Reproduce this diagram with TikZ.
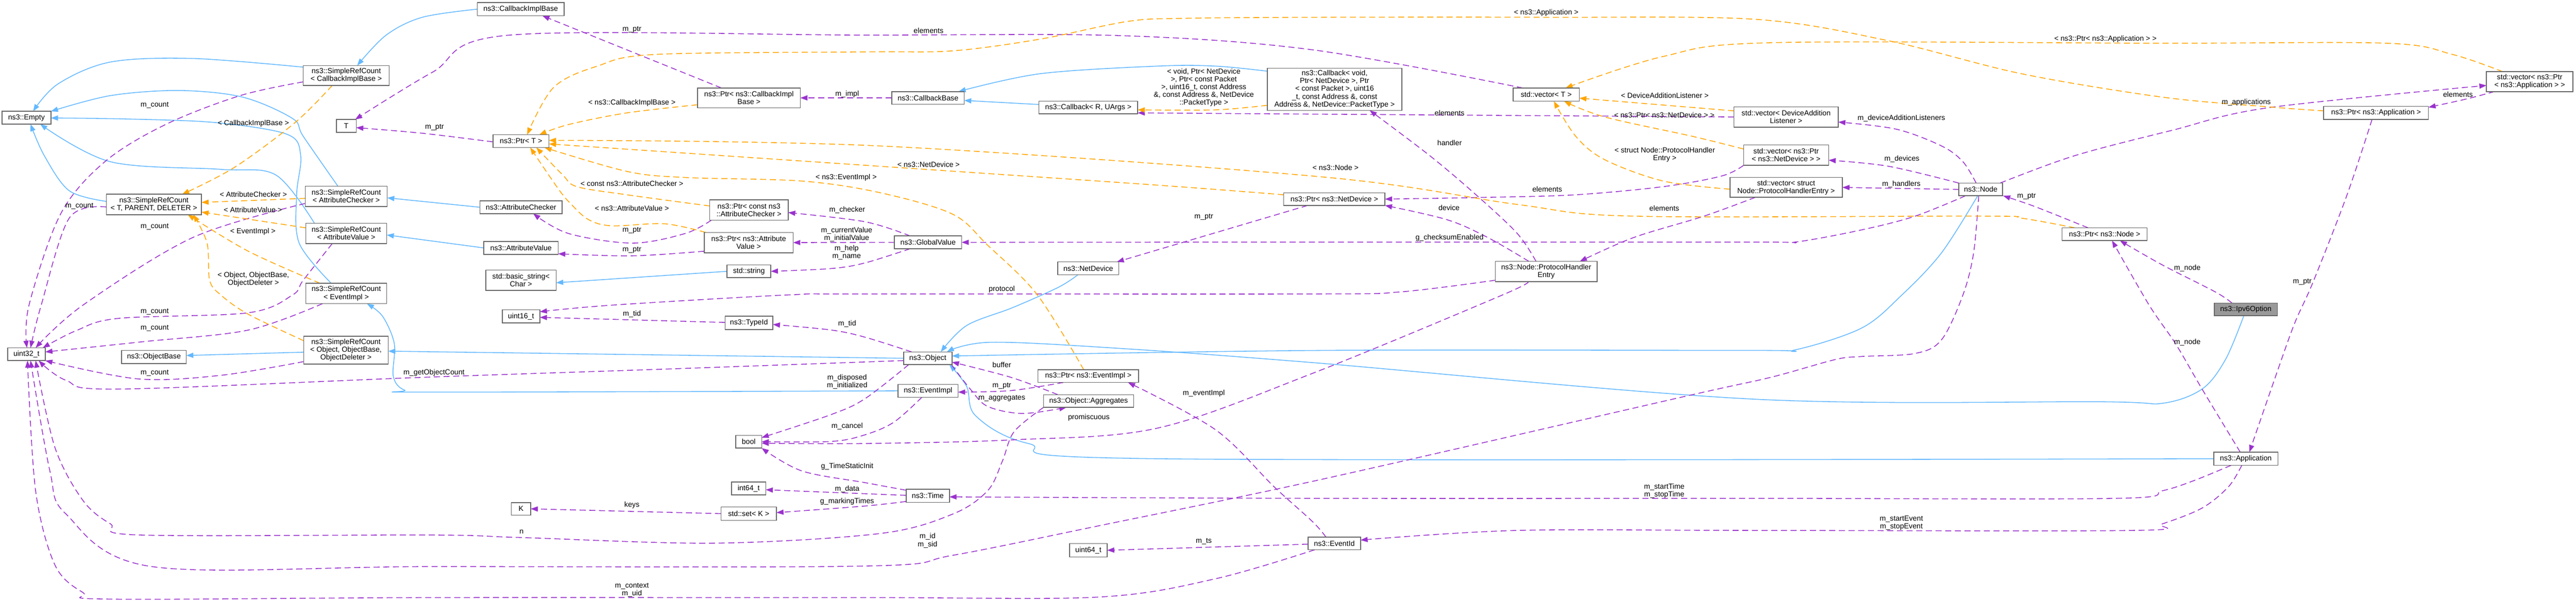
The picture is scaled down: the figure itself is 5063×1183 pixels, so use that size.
\documentclass[tikz,border=0pt]{standalone}
\usepackage{fontspec}
\setmainfont{Liberation Sans}
\usetikzlibrary{arrows.meta,calc}
\pgfdeclarelayer{edges}
\pgfsetlayers{edges,main}
\definecolor{inhC}{HTML}{63B8FF}
\definecolor{useC}{HTML}{9A32CD}
\definecolor{tplC}{HTML}{FFA500}
\definecolor{brdC}{HTML}{666666}
\definecolor{grayF}{HTML}{999999}
\begin{document}
\begin{tikzpicture}[x=0.02cm,y=-0.02cm,
  cbox/.style={draw=brdC,fill=white,line width=0.9pt,inner sep=0pt,align=center,font=\fontsize{8.2}{8.7}\selectfont},
  sz/.style 2 args={minimum width=#1cm,minimum height=#2cm},
  lbl/.style={inner sep=0pt,align=center,font=\fontsize{8.2}{8.7}\selectfont},
  rinh/.style={draw=inhC,line width=0.9pt,-{Triangle[length=0.28cm,width=0.2cm]}},
  ruse/.style={draw=useC,line width=0.9pt,dash pattern=on 0.24cm off 0.14cm,-{Triangle[length=0.28cm,width=0.2cm]}},
  rtpl/.style={draw=tplC,line width=0.9pt,dash pattern=on 0.24cm off 0.14cm,-{Triangle[length=0.28cm,width=0.2cm]}},
  sm/.style={smooth,tension=0.55}]
\useasboundingbox (0,0) rectangle (5063,1183);

% ---------------- nodes ----------------
\node[cbox,sz={1.92}{0.5}] (empty) at (52,231.5) {ns3::Empty};
\node[cbox,sz={3.38}{0.78}] (srccib) at (680.5,148.5) {ns3::SimpleRefCount\\< CallbackImplBase >};
\node[cbox,sz={0.78}{0.5}] (T) at (680.5,247.5) {T};
\node[cbox,sz={3.74}{0.8}] (srct) at (302.5,402) {ns3::SimpleRefCount\\< T, PARENT, DELETER >};
\node[cbox,sz={3.22}{0.8}] (srcac) at (680.5,386) {ns3::SimpleRefCount\\< AttributeChecker >};
\node[cbox,sz={3.18}{0.8}] (srcav) at (680.5,459) {ns3::SimpleRefCount\\< AttributeValue >};
\node[cbox,sz={3.18}{0.8}] (srcei) at (680.5,577) {ns3::SimpleRefCount\\< EventImpl >};
\node[cbox,sz={1.48}{0.5}] (uint32) at (52,696.5) {uint32\_t};
\node[cbox,sz={2.54}{0.52}] (objbase) at (302.5,702) {ns3::ObjectBase};
\node[cbox,sz={3.32}{1.1}] (srcobj) at (680,688.5) {ns3::SimpleRefCount\\< Object, ObjectBase,\\ObjectDeleter >};
\node[cbox,sz={3.42}{0.52}] (cib) at (1023.5,18) {ns3::CallbackImplBase};
\node[cbox,sz={4.04}{0.78}] (ptrcib) at (1472,192.5) {ns3::Ptr< ns3::CallbackImpl\\Base >};
\node[cbox,sz={2.2}{0.5}] (ptrt) at (1024,277.5) {ns3::Ptr< T >};
\node[cbox,sz={3.24}{0.5}] (attrchk) at (1024,407.5) {ns3::AttributeChecker};
\node[cbox,sz={3.08}{0.8}] (ptrcac) at (1472,413) {ns3::Ptr< const ns3\\::AttributeChecker >};
\node[cbox,sz={2.92}{0.5}] (attrval) at (1024,487.5) {ns3::AttributeValue};
\node[cbox,sz={3.5}{0.8}] (ptrav) at (1471.5,477) {ns3::Ptr< ns3::Attribute\\Value >};
\node[cbox,sz={2.76}{0.8}] (basicstr) at (1024,551) {std::basic\_string<\\Char >};
\node[cbox,sz={1.72}{0.5}] (stdstr) at (1472,533.5) {std::string};
\node[cbox,sz={1.48}{0.52}] (uint16) at (1024,622) {uint16\_t};
\node[cbox,sz={1.88}{0.52}] (typeid) at (1472,635) {ns3::TypeId};
\node[cbox,sz={1.02}{0.5}] (bool) at (1471.5,868.5) {bool};
\node[cbox,sz={1.34}{0.5}] (int64) at (1471.5,960.5) {int64\_t};
\node[cbox,sz={0.76}{0.5}] (K) at (1024,1000.5) {K};
\node[cbox,sz={2.18}{0.52}] (stdset) at (1471.5,1010) {std::set< K >};
\node[cbox,sz={2.84}{0.5}] (cbbase) at (1824,192.5) {ns3::CallbackBase};
\node[cbox,sz={3.88}{0.5}] (cbru) at (2139,211.5) {ns3::Callback< R, UArgs >};
\node[cbox,sz={5.28}{1.66}] (cbvoid) at (2623,175.5) {ns3::Callback< void,\\Ptr< NetDevice >, Ptr\\< const Packet >, uint16\\\_t, const Address \&, const\\Address \&, NetDevice::PacketType >};
\node[cbox,sz={2.64}{0.5}] (globalval) at (1824,476.5) {ns3::GlobalValue};
\node[cbox,sz={2.4}{0.5}] (netdev) at (2139,527.5) {ns3::NetDevice};
\node[cbox,sz={3.98}{0.5}] (ptrnd) at (2622.5,391.5) {ns3::Ptr< ns3::NetDevice >};
\node[cbox,sz={1.9}{0.5}] (object) at (1823.5,704.5) {ns3::Object};
\node[cbox,sz={3.96}{0.5}] (ptrei) at (2139,739.5) {ns3::Ptr< ns3::EventImpl >};
\node[cbox,sz={2.36}{0.5}] (eventimpl) at (1824,768.5) {ns3::EventImpl};
\node[cbox,sz={3.54}{0.5}] (aggr) at (2139.5,788.5) {ns3::Object::Aggregates};
\node[cbox,sz={1.7}{0.52}] (time) at (1823.5,975) {ns3::Time};
\node[cbox,sz={1.48}{0.52}] (uint64) at (2139,1082) {uint64\_t};
\node[cbox,sz={2.06}{0.5}] (eventid) at (2622.5,1068.5) {ns3::EventId};
\node[cbox,sz={2.6}{0.52}] (vect) at (3039,186) {std::vector< T >};
\node[cbox,sz={4.0}{0.8}] (phe) at (3039,534) {ns3::Node::ProtocolHandler\\Entry};
\node[cbox,sz={4.1}{0.8}] (vdal) at (3510.5,230) {std::vector< DeviceAddition\\Listener >};
\node[cbox,sz={3.34}{0.8}] (vpnd) at (3510.5,305) {std::vector< ns3::Ptr\\< ns3::NetDevice > >};
\node[cbox,sz={4.42}{0.78}] (vphe) at (3510.5,368.5) {std::vector< struct\\Node::ProtocolHandlerEntry >};
\node[cbox,sz={1.72}{0.5}] (nsnode) at (3893,372.5) {ns3::Node};
\node[cbox,sz={3.34}{0.5}] (ptrnode) at (4136.5,460.5) {ns3::Ptr< ns3::Node >};
\node[cbox,sz={3.4}{0.78}] (vpapp) at (4972,160.5) {std::vector< ns3::Ptr\\< ns3::Application > >};
\node[cbox,sz={4.12}{0.52}] (ptrapp) at (4670,222) {ns3::Ptr< ns3::Application >};
\node[cbox,sz={2.48}{0.5},fill=grayF] (ipv6) at (4414,608.5) {ns3::Ipv6Option};
\node[cbox,sz={2.52}{0.52}] (app) at (4414,902) {ns3::Application};

% ---------------- edges ----------------
\begin{pgfonlayer}{edges}
% inheritance
\draw[rinh] plot[sm] coordinates {($(srccib)+(-84.5,-16.5)$) (379,115) (217,122) (114,165) ($(empty)+(13,-12.5)$)};
\draw[rinh] plot[sm] coordinates {($(srcac)+(-16.5,-20)$) (596,268) (575,233) (477,191) (352,178) (217,188) ($(empty)+(48,-12.5)$)};
\draw[rinh] plot[sm] coordinates {($(srcei)+(-29.5,-20)$) (588,478) (583,383) (591,306) (564,264) (423,241) (250,234) ($(empty)+(48,0.5)$)};
\draw[rinh] plot[sm] coordinates {($(srcav)+(-62.5,-20)$) (542,344) (434,333) (217,318) ($(empty)+(27,12.5)$)};
\draw[rinh] plot[sm] coordinates {($(srct)+(-93.5,-6)$) (136,375) (87,306) ($(empty)+(8,12.5)$)};
\draw[rinh] plot[sm] coordinates {($(cib)+(-85.5,0)$) (830,34) (759,69) ($(srccib)+(21.5,-19.5)$)};
\draw[rinh] ($(attrchk)+(-81,0)$) -- ($(srcac)+(80.5,3)$);
\draw[rinh] ($(attrval)+(-73,0)$) -- ($(srcav)+(79.5,3)$);
\draw[rinh] plot[sm] coordinates {($(eventimpl)+(-59,0)$) (850,771) (795,767) (773,740) (775,676) (752,622) ($(srcei)+(40.5,20)$)};
\draw[rinh] ($(object)+(-47.5,0)$) -- ($(srcobj)+(83,2)$);
\draw[rinh] ($(srcobj)+(-83,4)$) -- ($(objbase)+(63.5,-3)$);
\draw[rinh] ($(cbru)+(-97,-6)$) -- ($(cbbase)+(71,5)$);
\draw[rinh] plot[sm] coordinates {($(cbvoid)+(-132,-35.5)$) (2389,130) (2274,130) (2044,145) ($(cbbase)+(60,-12.5)$)};
\draw[rinh] ($(stdstr)+(-43,0)$) -- ($(basicstr)+(69,5)$);
\draw[rinh] plot[sm] coordinates {($(netdev)+(-20,12.5)$) (2080,565) (1990,605) (1900,640) ($(object)+(25.5,-12.5)$)};
\draw[rinh] plot[sm] coordinates {($(nsnode)+(-6,12.5)$) (3816,497) (3738,580) (3659,645) (3528,688) (3450,689) (2600,689) ($(object)+(47.5,-4.5)$)};
\draw[rinh] plot[sm] coordinates {($(ipv6)+(-4,12.5)$) (4374,707) (4328,765) (4250,793) (4130,790) (3450,785) (2580,713) (2200,685) (1947,673) ($(object)+(37.5,-12.5)$)};
\draw[rinh] plot[sm] coordinates {($(app)+(-63,0)$) (2274,902) (2021,872) (1918,818) (1900,760) ($(object)+(42.5,12.5)$)};
% usage
\draw[ruse] plot[sm] coordinates {($(srccib)+(-84.5,12.5)$) (472,188) (325,245) (206,318) (119,421) (57,600) ($(uint32)+(1,-12.5)$)};
\draw[ruse] plot[sm] coordinates {($(srcac)+(-80.5,14)$) (379,467) (163,600) ($(uint32)+(18,-12.5)$)};
\draw[ruse] plot[sm] coordinates {($(srct)+(-93.5,5)$) (136,429) (81,600) ($(uint32)+(8,-12.5)$)};
\draw[ruse] plot[sm] coordinates {($(srcav)+(-27.5,20)$) (596,551) (575,580) (488,615) (233,626) (150,650) ($(uint32)+(32,-12.5)$)};
\draw[ruse] plot[sm] coordinates {($(srcei)+(-46.5,20)$) (488,649) (280,672) ($(uint32)+(37,-4.5)$)};
\draw[ruse] plot[sm] coordinates {($(srcobj)+(-83,22.5)$) (434,738) (271,745) ($(uint32)+(37,12.5)$)};
\draw[ruse] plot[sm] coordinates {($(object)+(-47.5,4.5)$) (1300,726) (830,742) (233,765) (130,748) ($(uint32)+(24,12.5)$)};
\draw[ruse] plot[sm] coordinates {($(aggr)+(-88.5,12.5)$) (1993,849) (1970,907) (1941,965) (1872,1011) (1730,1049) (1404,1068) (1025,1057) (850,1052) (276,1052) (217,1030) (163,984) (108,880) ($(uint32)+(18,12.5)$)};
\draw[ruse] plot[sm] coordinates {($(nsnode)+(-4,12.5)$) (3879,497) (3858,580) (3816,668) (3764,695) (3659,701) (3607,707) (3480,742) (3309,780) (2600,942) (2159,1034) (1872,1092) (1700,1113) (850,1114) (298,1114) (130,1011) (98,926) ($(uint32)+(8,12.5)$)};
\draw[ruse] plot[sm] coordinates {($(eventid)+(-38.5,12.5)$) (2389,1138) (2159,1174) (1700,1175) (850,1175) (217,1178) (163,1165) (108,1111) (70,965) ($(uint32)+(2,12.5)$)};
\draw[ruse] ($(ptrcib)+(-54,-19.5)$) -- ($(cib)+(42.5,13)$);
\draw[ruse] ($(cbbase)+(-71,0)$) -- ($(ptrcib)+(101,0)$);
\draw[ruse] plot[sm] coordinates {($(vect)+(-46,-13)$) (2580,98) (2200,70) (1700,69) (1002,69) (850,142) ($(T)+(17.5,-12.5)$)};
\draw[ruse] plot[sm] coordinates {($(ptrt)+(-55,1.5)$) (830,262) ($(T)+(19.5,3.5)$)};
\draw[ruse] plot[sm] coordinates {($(ptrcac)+(-74,20)$) (1347,459) (1243,478) (1117,459) ($(attrchk)+(24,12.5)$)};
\draw[ruse] plot[sm] coordinates {($(ptrav)+(-87.5,17)$) (1243,503) ($(attrval)+(73,11.5)$)};
\draw[ruse] plot[sm] coordinates {($(globalval)+(-35,-12.5)$) (1700,436) ($(ptrcac)+(77,5)$)};
\draw[ruse] ($(globalval)+(-66,0)$) -- ($(ptrav)+(87.5,0)$);
\draw[ruse] plot[sm] coordinates {($(globalval)+(-35,12.5)$) (1700,517) (1634,528) ($(stdstr)+(43,0)$)};
\draw[ruse] plot[sm] coordinates {($(object)+(-31.5,-12.5)$) (1700,663) (1634,649) ($(typeid)+(47,3)$)};
\draw[ruse] ($(typeid)+(-47,-1)$) -- ($(uint16)+(37,2)$);
\draw[ruse] plot[sm] coordinates {($(phe)+(-100,17)$) (2752,574) (2580,578) (1700,578) (1547,580) (1203,600) ($(uint16)+(37,-9)$)};
\draw[ruse] plot[sm] coordinates {($(object)+(-37.5,12.5)$) (1700,784) (1634,815) ($(bool)+(25.5,-8)$)};
\draw[ruse] plot[sm] coordinates {($(eventimpl)+(-12,12.5)$) (1757,830) (1700,855) (1634,868) ($(bool)+(25.5,0)$)};
\draw[ruse] plot[sm] coordinates {($(phe)+(-37,20)$) (2953,580) (2580,734) (2274,842) (1987,865) (1700,872) ($(bool)+(25.5,3)$)};
\draw[ruse] plot[sm] coordinates {($(time)+(-42.5,-11)$) (1700,949) (1576,926) ($(bool)+(25.5,12.5)$)};
\draw[ruse] ($(time)+(-42.5,-1)$) -- ($(int64)+(33.5,2.5)$);
\draw[ruse] plot[sm] coordinates {($(time)+(-42.5,11)$) (1700,995) ($(stdset)+(54.5,-2)$)};
\draw[ruse] ($(stdset)+(-54.5,0)$) -- ($(K)+(19,0)$);
\draw[ruse] plot[sm] coordinates {($(ptrei)+(-49,12.5)$) (1987,768) ($(eventimpl)+(59,2.5)$)};
\draw[ruse] plot[sm] coordinates {($(object)+(46.5,12.5)$) (1907,765) (1941,799) (2010,813) ($(aggr)+(-43.5,12.5)$)};
\draw[ruse] plot[sm] coordinates {($(aggr)+(-60.5,-12.5)$) (1987,742) ($(object)+(47.5,7.5)$)};
\draw[ruse] plot[sm] coordinates {($(eventid)+(-16.5,-12.5)$) (2580,1026) (2504,957) (2389,845) ($(ptrei)+(78,12.5)$)};
\draw[ruse] ($(eventid)+(-51.5,1.5)$) -- ($(uint64)+(37,0)$);
\draw[ruse] plot[sm] coordinates {($(app)+(-29,13)$) (4312,945) (4250,965) (4156,980) (3450,980) (2600,980) ($(time)+(42.5,2)$)};
\draw[ruse] plot[sm] coordinates {($(app)+(-8,13)$) (4380,957) (4328,999) (4250,1030) (4193,1043) (3450,1043) (2982,1043) ($(eventid)+(51.5,-6.5)$)};
\draw[ruse] plot[sm] coordinates {($(ptrapp)+(-8,13)$) (4613,383) (4546,555) (4509,638) (4468,753) ($(app)+(7,-13)$)};
\draw[ruse] plot[sm] coordinates {($(vpapp)+(-69,19.5)$) (4846,195) ($(ptrapp)+(103,-11)$)};
\draw[ruse] plot[sm] coordinates {($(nsnode)+(38,-12.5)$) (4078,306) (4270,256) (4457,212) ($(vpapp)+(-85,7.5)$)};
\draw[ruse] plot[sm] coordinates {($(ipv6)+(-27,-12.5)$) (4354,574) (4250,521) ($(ptrnode)+(30,12.5)$)};
\draw[ruse] plot[sm] coordinates {($(app)+(-11,-13)$) (4328,765) (4276,676) (4224,600) ($(ptrnode)+(14.5,12.5)$)};
\draw[ruse] plot[sm] coordinates {($(ptrnode)+(-32.5,-12.5)$) (3999,406) ($(nsnode)+(44,12.5)$)};
\draw[ruse] plot[sm] coordinates {($(nsnode)+(-9,-12.5)$) (3858,318) (3816,287) (3727,254) ($(vdal)+(102.5,10)$)};
\draw[ruse] plot[sm] coordinates {($(nsnode)+(-43,-12.5)$) (3712,327) ($(vpnd)+(83.5,10)$)};
\draw[ruse] ($(nsnode)+(-43,0)$) -- ($(vphe)+(110.5,0)$);
\draw[ruse] plot[sm] coordinates {($(nsnode)+(-30,12.5)$) (3764,425) (3659,452) (3528,476) (3450,476) (2600,476) ($(globalval)+(66,0)$)};
\draw[ruse] plot[sm] coordinates {($(vphe)+(-60.5,19.5)$) (3349,425) (3211,467) ($(phe)+(66,-20)$)};
\draw[ruse] plot[sm] coordinates {($(vpnd)+(-83.5,20)$) (3384,346) (3269,367) (3097,383) (2924,388) ($(ptrnd)+(99.5,0)$)};
\draw[ruse] plot[sm] coordinates {($(phe)+(-34,-20)$) (2924,467) (2844,432) ($(ptrnd)+(99.5,12.5)$)};
\draw[ruse] plot[sm] coordinates {($(phe)+(-20,-20)$) (2982,459) (2901,383) (2810,306) ($(cbvoid)+(69,41.5)$)};
\draw[ruse] ($(ptrnd)+(-52.5,12.5)$) -- ($(netdev)+(56,-12.5)$);
\draw[ruse] ($(vdal)+(-102.5,0)$) -- ($(cbru)+(97,10.5)$);
% template instances
\draw[rtpl] plot[sm] coordinates {($(srccib)+(-27.5,19.5)$) (580,241) (461,329) ($(srct)+(55.5,-20)$)};
\draw[rtpl] ($(srcac)+(-80.5,4)$) -- ($(srct)+(93.5,-4)$);
\draw[rtpl] ($(srcav)+(-79.5,-11)$) -- ($(srct)+(93.5,15)$);
\draw[rtpl] plot[sm] coordinates {($(srcei)+(-51.5,-20)$) (488,494) ($(srct)+(66.5,20)$)};
\draw[rtpl] plot[sm] coordinates {($(srcobj)+(-83,-18.5)$) (488,618) (434,580) (412,551) (407,478) ($(srct)+(77.5,20)$)};
\draw[rtpl] plot[sm] coordinates {($(ptrcib)+(-101,13.5)$) (1232,222) (1117,245) ($(ptrt)+(36,-12.5)$)};
\draw[rtpl] plot[sm] coordinates {($(ptrcac)+(-77,-8)$) (1232,383) (1134,367) (1106,344) ($(ptrt)+(30,12.5)$)};
\draw[rtpl] plot[sm] coordinates {($(ptrav)+(-84.5,-20)$) (1306,440) (1203,444) (1157,432) (1123,402) (1097,371) ($(ptrt)+(18,12.5)$)};
\draw[rtpl] plot[sm] coordinates {($(ptrei)+(-9,-12.5)$) (2039,580) (1941,482) (1872,421) (1730,379) (1576,356) (1347,349) (1232,337) ($(ptrt)+(46,12.5)$)};
\draw[rtpl] plot[sm] coordinates {($(ptrnd)+(-99.5,-8.5)$) (2274,364) (1730,327) ($(ptrt)+(55,5.5)$)};
\draw[rtpl] plot[sm] coordinates {($(ptrnode)+(-58.5,-12.5)$) (3973,429) (3895,425) (3211,425) (2982,402) (2600,348) (1730,287) ($(ptrt)+(55,-1.5)$)};
\draw[rtpl] plot[sm] coordinates {($(ptrapp)+(-103,-4)$) (4457,210) (4250,191) (3973,145) (3711,80) (3450,38) (3039,34) (2580,34) (2331,36) (2217,42) (2044,77) (1872,100) (1700,102) (1289,107) (1174,130) (1088,172) ($(ptrt)+(12,-12.5)$)};
\draw[rtpl] plot[sm] coordinates {($(vpapp)+(-53,-19.5)$) (4820,107) (4691,85) (4250,85) (3480,84) (3269,111) ($(vect)+(38,-13)$)};
\draw[rtpl] ($(vdal)+(-102.5,-12)$) -- ($(vect)+(65,7)$);
\draw[rtpl] plot[sm] coordinates {($(vpnd)+(-83.5,-12)$) (3326,268) (3154,230) ($(vect)+(35,13)$)};
\draw[rtpl] plot[sm] coordinates {($(vphe)+(-110.5,3.5)$) (3269,356) (3154,314) (3097,268) ($(vect)+(15,13)$)};
\draw[rtpl] plot[sm] coordinates {($(cbvoid)+(-132,31.5)$) (2389,216) ($(cbru)+(97,4.5)$)};
\end{pgfonlayer}

% ---------------- labels ----------------
\node[lbl] (l01) at (304,207) {m\_count};
\node[lbl] (l02) at (498,243) {< CallbackImplBase >};
\node[lbl] (l03) at (156,405) {m\_count};
\node[lbl] (l04) at (498,382) {< AttributeChecker >};
\node[lbl] (l05) at (497,413) {< AttributeValue >};
\node[lbl] (l06) at (304,446) {m\_count};
\node[lbl] (l07) at (497,455) {< EventImpl >};
\node[lbl] (l08) at (498,549) {< Object, ObjectBase,\\ObjectDeleter >};
\node[lbl] (l09) at (304,613) {m\_count};
\node[lbl] (l10) at (304,645) {m\_count};
\node[lbl] (l11) at (304,733) {m\_count};
\node[lbl] (l12) at (853,733) {m\_getObjectCount};
\node[lbl] (l13) at (1242,58) {m\_ptr};
\node[lbl] (l14) at (1242,202) {< ns3::CallbackImplBase >};
\node[lbl] (l15) at (1665,185) {m\_impl};
\node[lbl] (l16) at (854,250) {m\_ptr};
\node[lbl] (l17) at (1242,361) {< const ns3::AttributeChecker >};
\node[lbl] (l18) at (1663,349) {< ns3::EventImpl >};
\node[lbl] (l19) at (1242,410) {< ns3::AttributeValue >};
\node[lbl] (l20) at (1665,413) {m\_checker};
\node[lbl] (l21) at (1242,453) {m\_ptr};
\node[lbl] (l22) at (1664,461) {m\_currentValue\\m\_initialValue};
\node[lbl] (l23) at (1242,491) {m\_ptr};
\node[lbl] (l24) at (1664,496) {m\_help\\m\_name};
\node[lbl] (l25) at (1242,617) {m\_tid};
\node[lbl] (l26) at (1665,637) {m\_tid};
\node[lbl] (l27) at (1665,751) {m\_disposed\\m\_initialized};
\node[lbl] (l28) at (1665,838) {m\_cancel};
\node[lbl] (l29) at (1665,917) {g\_TimeStaticInit};
\node[lbl] (l30) at (1665,962) {m\_data};
\node[lbl] (l31) at (1665,986) {g\_markingTimes};
\node[lbl] (l32) at (1242,993) {keys};
\node[lbl] (l33) at (1025,1046) {n};
\node[lbl] (l34) at (1242,1160) {m\_context\\m\_uid};
\node[lbl] (l35) at (1825,60) {elements};
\node[lbl] (l36) at (2366,172) {< void, Ptr< NetDevice\\>, Ptr< const Packet\\>, uint16\_t, const Address\\\&, const Address \&, NetDevice\\::PacketType >};
\node[lbl] (l37) at (1825,323) {< ns3::NetDevice >};
\node[lbl] (l38) at (2366,427) {m\_ptr};
\node[lbl] (l39) at (1969,569) {protocol};
\node[lbl] (l40) at (2625,330) {< ns3::Node >};
\node[lbl] (l41) at (1969,717) {buffer};
\node[lbl] (l42) at (1969,759) {m\_ptr};
\node[lbl] (l43) at (1969,783) {m\_aggregates};
\node[lbl] (l44) at (2366,773) {m\_eventImpl};
\node[lbl] (l45) at (2140,821) {promiscuous};
\node[lbl] (l46) at (1823,1063) {m\_id\\m\_sid};
\node[lbl] (l47) at (2366,1065) {m\_ts};
\node[lbl] (l48) at (3039,25) {< ns3::Application >};
\node[lbl] (l49) at (2849,222) {elements};
\node[lbl] (l50) at (3272,188) {< DeviceAdditionListener >};
\node[lbl] (l51) at (3271,226) {< ns3::Ptr< ns3::NetDevice > >};
\node[lbl] (l52) at (2849,281) {handler};
\node[lbl] (l53) at (3272,304) {< struct Node::ProtocolHandler\\Entry >};
\node[lbl] (l54) at (3041,372) {elements};
\node[lbl] (l55) at (2848,408) {device};
\node[lbl] (l56) at (3271,409) {elements};
\node[lbl] (l57) at (2849,468) {g\_checksumEnabled};
\node[lbl] (l58) at (3271,965) {m\_startTime\\m\_stopTime};
\node[lbl] (l59) at (4138,77) {< ns3::Ptr< ns3::Application > >};
\node[lbl] (l60) at (3737,233) {m\_deviceAdditionListeners};
\node[lbl] (l61) at (3738,313) {m\_devices};
\node[lbl] (l62) at (3737,362) {m\_handlers};
\node[lbl] (l63) at (3983,386) {m\_ptr};
\node[lbl] (l64) at (3737,1028) {m\_startEvent\\m\_stopEvent};
\node[lbl] (l65) at (4831,186) {elements};
\node[lbl] (l66) at (4415,201) {m\_applications};
\node[lbl] (l67) at (4299,527) {m\_node};
\node[lbl] (l68) at (4525,554) {m\_ptr};
\node[lbl] (l69) at (4299,673) {m\_node};
\end{tikzpicture}
\end{document}
